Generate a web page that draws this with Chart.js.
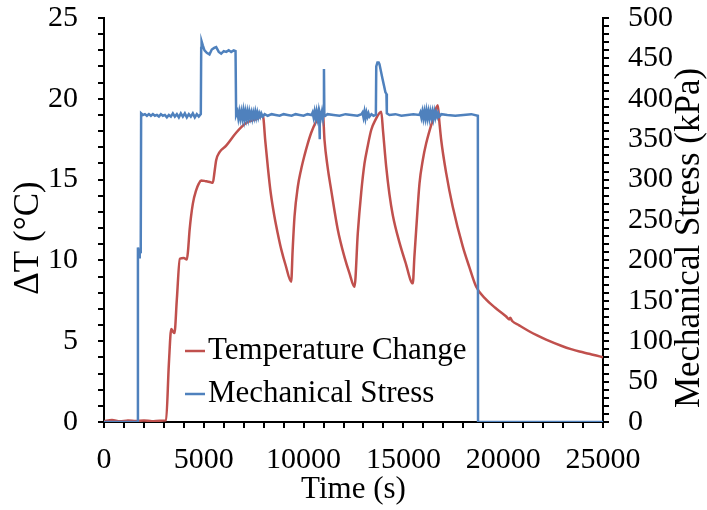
<!DOCTYPE html>
<html>
<head>
<meta charset="utf-8">
<script src="https://cdn.jsdelivr.net/npm/chart.js@4.4.1/dist/chart.umd.min.js"></script>
<style>
  html, body { margin: 0; padding: 0; background: #fff; }
  #wrap { width: 707px; height: 510px; }
</style>
</head>
<body>
<div id="wrap"><canvas id="stressChart"></canvas></div>
<script>
const serif = '"Liberation Serif", "Times New Roman", serif';
Chart.defaults.color = '#000';
Chart.defaults.font.family = serif;
Chart.defaults.font.size = 30;

// temperature change (deg C) vs time (s)
const tempTime = [0, 400, 800, 1200, 1600, 2000, 2400, 2800, 3110, 3250, 3370, 3450, 3530, 3650, 3800,
  4000, 4150, 4210, 4290, 4450, 4620, 4750, 4870, 5100, 5300, 5450, 5540, 5620, 5790, 6120, 6620, 7120,
  7620, 7960, 8080, 8206, 8350, 8542, 8700, 8877, 9100, 9378, 9450, 9544, 9710, 9870, 10045, 10200,
  10381, 10631, 10882, 10962, 11047, 11200, 11383, 11714, 12049, 12300, 12550, 12716, 12886, 13051,
  13200, 13387, 13600, 13888, 13980, 14138, 14300, 14469, 14805, 15100, 15471, 15550, 15641, 15807,
  15970, 16142, 16473, 16723, 16800, 16894, 17144, 17475, 17976, 18300, 18647, 19149, 19600, 20150,
  20300, 20350, 20450, 20800, 21320, 21700, 22150, 22970, 23400, 23820, 24300, 24830, 25000];
const tempValues = [0.05, 0.12, 0.04, 0.1, 0.06, 0.1, 0.05, 0.08, 0.1, 3.6, 5.75, 5.6, 5.5, 7.6, 10.1,
  10.15, 10.05, 10.6, 11.9, 13.5, 14.35, 14.75, 14.95, 14.9, 14.85, 14.8, 15.5, 16.2, 16.7, 17.1, 17.9,
  18.5, 18.75, 18.95, 17.4, 15.8, 14.2, 12.7, 11.7, 10.7, 9.7, 8.68, 10.6, 12.7, 14.56, 15.6, 16.5, 17.2,
  17.9, 18.6, 19.1, 19.2, 17.45, 15.8, 14.35, 11.9, 10.2, 9.2, 8.37, 11.7, 14.2, 16.0,
  17.0, 18.07, 18.7, 19.2, 18.0, 15.8, 14.1, 12.8, 11.1, 9.9, 8.58, 10.2, 11.9, 14.77,
  16.2, 17.25, 18.7, 19.6, 18.6, 17.45, 15.4, 13.3, 10.85, 9.6, 8.37, 7.57, 7.07, 6.53,
  6.35, 6.45, 6.25, 5.98, 5.6, 5.36, 5.1, 4.69, 4.51, 4.36, 4.22, 4.06, 4.0];

// mechanical stress (kPa) vs time (s)
const stressTime = [0, 1000, 1690, 1700, 1730, 1760, 1790, 1840, 1860, 1950, 2050, 2150, 2250, 2350,
  2450, 2550, 2650, 2750, 2850, 2950, 3050, 3150, 3250, 3350, 3450, 3550, 3650, 3750, 3850, 3950, 4050,
  4150, 4250, 4350, 4450, 4550, 4650, 4750, 4850, 4870, 4890, 4950, 5035, 5150, 5285, 5400, 5520, 5620,
  5750, 5870, 6000, 6120, 6250, 6370, 6500, 6590, 6620, 6680, 6730, 6780, 6830, 6880, 6930, 6980, 7030,
  7080, 7130, 7180, 7230, 7280, 7330, 7380, 7430, 7480, 7530, 7580, 7630, 7680, 7730, 7780, 7830, 7880,
  7950, 8050, 8200, 8400, 8600, 8800, 9000, 9200, 9400, 9600, 9800, 10000, 10200, 10400, 10450, 10500,
  10550, 10600, 10650, 10700, 10750, 10780, 10800, 10820, 10870, 10920, 10970, 11000, 11020, 11040,
  11080, 11200, 11500, 11800, 12100, 12400, 12700, 12900, 12950, 13000, 13050, 13100, 13150, 13200,
  13250, 13300, 13400, 13500, 13620, 13640, 13700, 13760, 13800, 13950, 14100, 14150, 14170, 14300,
  14600, 14900, 15200, 15500, 15800, 15850, 15900, 15950, 16000, 16050, 16100, 16150, 16200, 16250,
  16300, 16350, 16400, 16450, 16500, 16550, 16600, 16650, 16700, 16750, 16800, 16900, 17200, 17600,
  18000, 18400, 18730, 18740, 20000, 25000];
const stressValues = [0, 0, 0, 216, 212, 204, 209, 210, 382, 380, 381, 379, 381, 379,
  381, 379, 380, 378, 381, 379, 380, 377, 380, 378, 382, 378, 381, 377, 382, 378, 382,
  377, 381, 378, 382, 377, 381, 378, 381, 463, 471, 466, 460, 457, 455, 461, 463, 464,
  458, 456, 459, 458, 460, 458, 460, 459, 380, 384, 376, 384, 376, 384, 376, 385, 375,
  384, 376, 384, 376, 384, 377, 383, 376, 383, 377, 384, 377, 383, 377, 382, 378, 382,
  378, 381, 379, 381, 380, 379, 381, 380, 379, 381, 380, 379, 381, 380, 383, 377,
  384, 376, 384, 376, 384, 377, 350, 383, 377, 384, 376, 382, 437, 380,
  379, 381, 380, 379, 381, 380, 379, 381, 383, 377, 384, 376, 383, 378,
  382, 378, 381, 379, 380, 440, 445, 445, 443, 425, 408, 406, 382, 380,
  381, 379, 380, 381, 380, 383, 377, 384, 376, 384, 376, 385, 376, 384,
  376, 384, 377, 384, 376, 384, 377, 383, 378, 382, 378, 381, 380, 379,
  380, 381, 379, 0, 0, 0];

const timeRange = [0, 25000];
const tempRange = [0, 25];
const stressRange = [0, 500];

const toPoints = (xs, ys) => xs.map((x, i) => ({ x: x, y: ys[i] }));

// small outward ticks every 1000 s, 1 degC and 10 kPa
const axisTicks = {
  id: 'axisTicks',
  afterDraw(chart) {
    const { ctx, chartArea: a, scales } = chart;
    ctx.save();
    ctx.strokeStyle = '#000';
    ctx.lineWidth = 2;
    ctx.beginPath();
    for (let v = timeRange[0]; v <= timeRange[1]; v += 1000) {
      const px = Math.round(scales.x.getPixelForValue(v));
      ctx.moveTo(px, a.bottom);
      ctx.lineTo(px, a.bottom + 6);
    }
    for (let v = tempRange[0]; v <= tempRange[1]; v += 1) {
      const py = Math.round(scales.y.getPixelForValue(v));
      ctx.moveTo(a.left - 6, py);
      ctx.lineTo(a.left, py);
    }
    for (let v = stressRange[0]; v <= stressRange[1]; v += 10) {
      const py = Math.round(scales.y1.getPixelForValue(v));
      ctx.moveTo(a.right, py);
      ctx.lineTo(a.right + 6, py);
    }
    ctx.stroke();
    ctx.restore();
  }
};

// vertical axis titles, both read bottom to top
const sideTitles = {
  id: 'sideTitles',
  afterDraw(chart) {
    const { ctx } = chart;
    const draw = (text, x, y) => {
      ctx.save();
      ctx.fillStyle = '#000';
      ctx.font = '35px ' + serif;
      ctx.textAlign = 'center';
      ctx.textBaseline = 'middle';
      ctx.translate(x, y);
      ctx.rotate(-Math.PI / 2);
      ctx.fillText(text, 0, 0);
      ctx.restore();
    };
    draw('ΔT (°C)', 29, 238);
    draw('Mechanical Stress (kPa)', 690, 238);
  }
};

// legend inside the plot, lower left
const innerLegend = {
  id: 'innerLegend',
  afterDraw(chart) {
    const { ctx, chartArea: a } = chart;
    const x0 = a.left + 81;
    let y = a.bottom - 71;
    ctx.save();
    ctx.font = '31px ' + serif;
    ctx.textBaseline = 'middle';
    ctx.textAlign = 'left';
    chart.data.datasets.forEach(ds => {
      ctx.strokeStyle = ds.borderColor;
      ctx.lineWidth = 2.5;
      ctx.beginPath();
      ctx.moveTo(x0, y);
      ctx.lineTo(x0 + 20, y);
      ctx.stroke();
      ctx.fillStyle = '#000';
      ctx.fillText(ds.label, x0 + 23, y);
      y += 43;
    });
    ctx.restore();
  }
};

const axisBase = {
  type: 'linear',
  border: { display: true, color: '#000', width: 2 },
  grid: { display: true, drawOnChartArea: false, drawTicks: false },
};

new Chart('stressChart', {
  type: 'line',
  data: {
    datasets: [{
      label: 'Temperature Change',
      data: toPoints(tempTime, tempValues),
      yAxisID: 'y',
      borderColor: '#C0504D',
      borderWidth: 2.5,
      pointRadius: 0,
      cubicInterpolationMode: 'monotone',
      order: 2
    }, {
      label: 'Mechanical Stress',
      data: toPoints(stressTime, stressValues),
      yAxisID: 'y1',
      borderColor: '#4F81BD',
      borderWidth: 2.5,
      pointRadius: 0,
      order: 1
    }]
  },
  options: {
    responsive: true,
    maintainAspectRatio: false,
    animation: false,
    events: [],
    layout: { padding: { top: 18, left: 0, right: 0, bottom: 0 } },
    plugins: { legend: { display: false }, tooltip: { enabled: false } },
    scales: {
      x: {
        ...axisBase,
        min: timeRange[0], max: timeRange[1],
        ticks: { stepSize: 5000, autoSkip: false, maxRotation: 0, padding: 20, callback: v => String(v) },
        title: { display: true, text: 'Time (s)', font: { size: 31 }, padding: { top: 0, bottom: 2 } },
        afterFit: s => { s.height = 88; s.paddingLeft = 0; s.paddingRight = 0; }
      },
      y: {
        ...axisBase,
        position: 'left',
        min: tempRange[0], max: tempRange[1],
        ticks: { stepSize: 5, autoSkip: false, padding: 26, callback: v => String(v) },
        afterFit: s => { s.width = 104; s.paddingTop = 0; s.paddingBottom = 0; }
      },
      y1: {
        ...axisBase,
        position: 'right',
        min: stressRange[0], max: stressRange[1],
        ticks: { stepSize: 50, autoSkip: false, padding: 25, callback: v => String(v) },
        afterFit: s => { s.width = 104; s.paddingTop = 0; s.paddingBottom = 0; }
      }
    }
  },
  plugins: [axisTicks, sideTitles, innerLegend]
});
</script>
</body>
</html>
